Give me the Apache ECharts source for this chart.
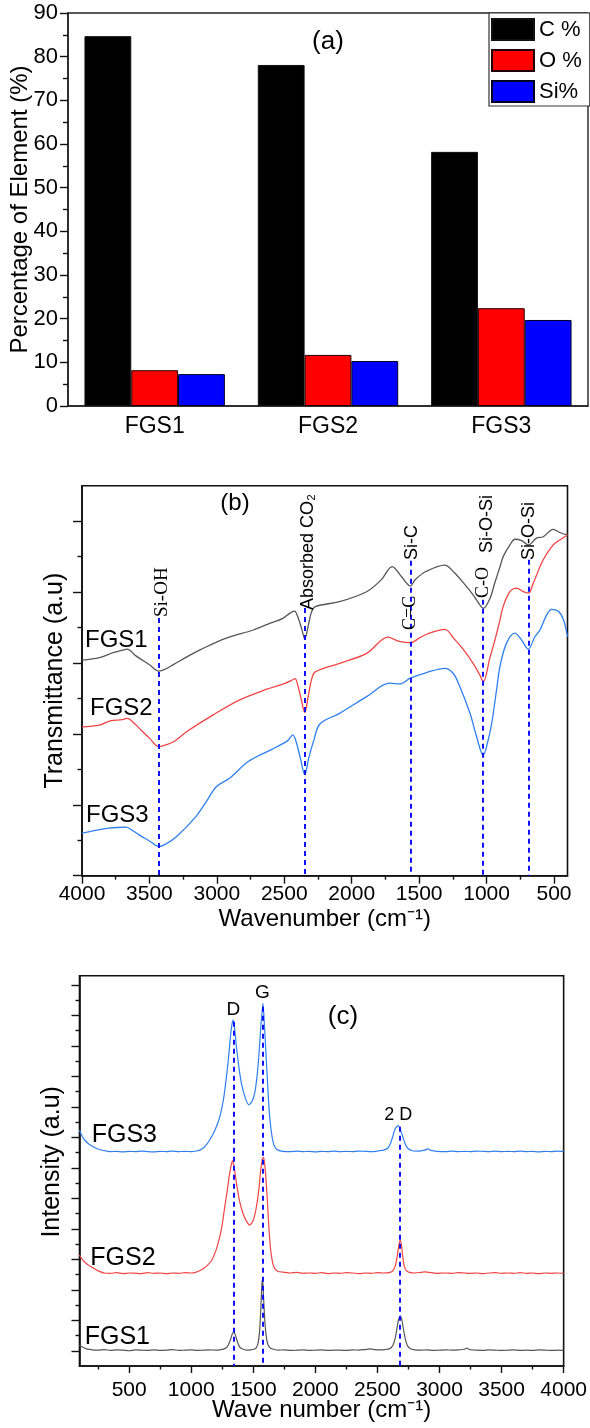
<!DOCTYPE html>
<html><head><meta charset="utf-8">
<script src="https://cdn.jsdelivr.net/npm/echarts@6/dist/echarts.min.js"></script>
<style>html,body{margin:0;padding:0;background:#fff}#c{width:590px;height:1428px}</style>
</head><body><div id="c"></div>
<script>
// ---------- Panel (a) ----------
const categories = ['FGS1', 'FGS2', 'FGS3'];
const carbonPct = [84.7, 78.1, 58.2];
const oxygenPct = [8.2, 11.7, 22.4];
const siliconPct = [7.3, 10.3, 19.7];

// ---------- Panel (b) FTIR: [wavenumber, transmittance a.u.] ----------
const ftirFGS1 = [[4000,60.8],[3870,61.5],[3770,62.9],[3700,63.6],[3665,63.9],[3600,62.0],[3500,59.5],[3430,57.7],[3380,58.3],[3320,59.6],[3200,62.2],[3125,63.7],[2930,67.0],[2730,69.3],[2600,71.3],[2510,72.6],[2460,74.0],[2425,74.6],[2395,72.5],[2370,69.5],[2348,66.8],[2325,70.0],[2300,74.2],[2270,75.9],[2090,77.3],[1890,80.1],[1780,83.5],[1700,87.2],[1630,84.3],[1565,81.7],[1530,83.5],[1450,85.8],[1310,87.6],[1240,85.5],[1170,82.5],[1100,79.2],[1050,76.4],[1025,75.4],[975,78.2],[940,82.5],[900,87.2],[877,90.0],[827,93.3],[790,94.9],[740,94.5],[690,93.3],[630,95.2],[580,95.6],[506,97.7],[457,96.8],[400,96.1]];
const ftirFGS2 = [[4000,42.0],[3870,42.5],[3790,43.7],[3700,44.0],[3665,44.4],[3600,42.5],[3560,41.0],[3500,38.8],[3430,36.4],[3380,36.9],[3320,37.8],[3225,40.6],[3030,45.3],[2830,49.6],[2630,52.6],[2500,54.2],[2440,55.2],[2420,55.6],[2395,53.0],[2370,49.0],[2348,46.0],[2325,50.0],[2300,55.0],[2270,57.5],[2090,59.9],[1890,62.7],[1730,67.3],[1690,66.7],[1640,66.0],[1565,65.7],[1500,67.0],[1445,68.1],[1310,69.5],[1240,66.8],[1170,63.7],[1100,59.9],[1050,56.6],[1025,54.7],[975,61.5],[938,66.5],[901,72.1],[877,75.9],[827,80.1],[777,81.1],[728,80.1],[690,79.7],[654,82.5],[580,89.1],[506,93.3],[457,94.7],[400,96.1]];
const ftirFGS3 = [[4000,12.0],[3900,12.8],[3800,13.4],[3740,13.6],[3675,13.7],[3620,12.6],[3577,11.5],[3500,9.8],[3428,8.2],[3380,8.9],[3300,11.0],[3157,16.6],[3080,20.8],[3004,25.1],[2906,27.5],[2767,32.2],[2600,35.5],[2475,38.1],[2437,39.7],[2410,37.5],[2380,33.0],[2348,28.5],[2320,33.0],[2280,38.3],[2236,42.8],[2090,45.8],[1890,50.5],[1717,54.3],[1643,54.1],[1566,55.7],[1445,57.3],[1309,58.5],[1248,57.1],[1198,53.3],[1123,45.8],[1074,39.2],[1025,34.0],[988,38.3],[962,43.0],[926,52.4],[901,59.0],[852,65.6],[790,68.4],[741,66.5],[691,63.9],[642,67.4],[604,69.3],[555,73.5],[517,75.1],[466,74.5],[429,72.1],[400,67.4]];
const ftirTickValues = [4000, 3500, 3000, 2500, 2000, 1500, 1000, 500];
const ftirMinorTicks = [3750, 3250, 2750, 2250, 1750, 1250, 750];
const ftirYMajor = [0, 20, 40, 60, 80, 100];
const ftirYMinor = [10, 30, 50, 70, 90];
const ftirPeakWn = [3430, 2350, 1565, 1025, 685];
const ftirPeakTop = [72.7, 75.5, 88.8, 77.8, 89.1];

// ---------- Panel (c) Raman: [wavenumber, intensity a.u.] ----------
const ramanFGS1 = [[100,0.68],[125,0.62],[150,0.57],[175,0.55],[200,0.53],[250,0.52],[300,0.54],[350,0.51],[400,0.53],[450,0.52],[500,0.5],[550,0.53],[600,0.52],[650,0.51],[700,0.53],[750,0.51],[800,0.52],[850,0.54],[900,0.51],[950,0.52],[1000,0.53],[1050,0.51],[1100,0.52],[1150,0.53],[1200,0.52],[1240,0.54],[1270,0.57],[1295,0.66],[1315,0.85],[1330,1.04],[1342,1.12],[1355,1.02],[1370,0.82],[1385,0.66],[1400,0.58],[1425,0.54],[1450,0.52],[1480,0.53],[1505,0.55],[1525,0.6],[1540,0.78],[1552,1.2],[1562,2.0],[1568,2.6],[1573,2.84],[1578,2.65],[1585,2.05],[1595,1.35],[1607,0.9],[1620,0.68],[1640,0.58],[1670,0.54],[1700,0.52],[1750,0.53],[1800,0.51],[1850,0.52],[1900,0.53],[1950,0.51],[2000,0.52],[2050,0.53],[2100,0.51],[2150,0.52],[2200,0.52],[2250,0.51],[2300,0.53],[2350,0.52],[2400,0.54],[2440,0.56],[2480,0.54],[2520,0.53],[2560,0.54],[2600,0.57],[2625,0.68],[2645,0.95],[2660,1.3],[2672,1.55],[2684,1.64],[2696,1.52],[2710,1.2],[2725,0.88],[2740,0.68],[2760,0.58],[2790,0.54],[2850,0.52],[2900,0.53],[2950,0.51],[3000,0.52],[3050,0.53],[3100,0.52],[3150,0.53],[3200,0.55],[3220,0.59],[3240,0.54],[3300,0.52],[3350,0.51],[3400,0.53],[3450,0.52],[3500,0.51],[3550,0.52],[3600,0.53],[3650,0.51],[3700,0.52],[3750,0.51],[3800,0.53],[3850,0.52],[3900,0.51],[3950,0.52],[4000,0.51]];
const ramanFGS2 = [[100,3.64],[125,3.48],[150,3.38],[175,3.3],[200,3.24],[225,3.18],[250,3.12],[275,3.08],[300,3.05],[350,3.04],[400,3.06],[450,3.03],[500,3.05],[550,3.04],[600,3.03],[650,3.06],[700,3.04],[750,3.05],[800,3.03],[850,3.05],[900,3.04],[950,3.06],[1000,3.05],[1040,3.08],[1070,3.13],[1100,3.2],[1130,3.3],[1163,3.45],[1200,3.8],[1230,4.24],[1250,4.65],[1270,5.22],[1290,5.75],[1305,6.2],[1320,6.55],[1332,6.73],[1345,6.55],[1357,6.2],[1369,5.88],[1390,5.4],[1417,5.0],[1445,4.75],[1471,4.62],[1500,4.78],[1525,5.22],[1545,5.8],[1560,6.43],[1574,6.8],[1584,6.84],[1597,6.4],[1610,5.66],[1625,4.6],[1637,3.91],[1655,3.4],[1672,3.2],[1700,3.1],[1739,3.08],[1800,3.05],[1850,3.07],[1900,3.04],[1950,3.05],[2000,3.04],[2050,3.06],[2100,3.03],[2150,3.05],[2200,3.04],[2250,3.06],[2300,3.05],[2350,3.03],[2400,3.05],[2450,3.04],[2500,3.06],[2550,3.05],[2600,3.07],[2625,3.13],[2645,3.3],[2660,3.62],[2672,3.95],[2683,4.13],[2694,3.95],[2705,3.55],[2718,3.25],[2735,3.12],[2760,3.07],[2800,3.05],[2850,3.07],[2890,3.09],[2930,3.06],[2980,3.04],[3050,3.05],[3100,3.04],[3150,3.06],[3200,3.05],[3250,3.04],[3300,3.05],[3350,3.03],[3400,3.05],[3450,3.06],[3500,3.04],[3550,3.05],[3600,3.04],[3650,3.06],[3700,3.04],[3750,3.05],[3800,3.03],[3850,3.05],[3900,3.04],[3950,3.05],[4000,3.04]];
const ramanFGS3 = [[100,7.74],[120,7.55],[140,7.42],[170,7.3],[211,7.19],[260,7.1],[319,7.05],[350,7.03],[400,7.04],[450,7.02],[500,7.04],[550,7.03],[600,7.05],[650,7.03],[700,7.02],[750,7.04],[800,7.03],[850,7.05],[900,7.03],[950,7.04],[1000,7.03],[1040,7.05],[1069,7.08],[1110,7.2],[1149,7.41],[1190,7.72],[1230,8.17],[1260,8.75],[1284,9.49],[1300,10.1],[1316,10.8],[1328,11.2],[1337,11.34],[1350,11.05],[1364,10.47],[1384,9.8],[1404,9.27],[1435,8.8],[1465,8.56],[1490,8.68],[1511,8.94],[1530,9.5],[1546,10.25],[1562,11.2],[1578,11.89],[1592,11.0],[1605,10.03],[1620,8.9],[1632,8.17],[1652,7.5],[1672,7.19],[1700,7.08],[1739,7.04],[1800,7.03],[1850,7.05],[1900,7.03],[1950,7.04],[2000,7.02],[2050,7.04],[2100,7.03],[2150,7.05],[2200,7.03],[2250,7.04],[2300,7.03],[2350,7.05],[2400,7.04],[2450,7.03],[2500,7.05],[2550,7.08],[2583,7.14],[2605,7.3],[2623,7.52],[2645,7.8],[2667,7.88],[2685,7.75],[2704,7.52],[2722,7.3],[2744,7.14],[2780,7.06],[2830,7.05],[2880,7.08],[2905,7.12],[2930,7.07],[2980,7.04],[3050,7.03],[3100,7.05],[3150,7.03],[3200,7.04],[3250,7.03],[3300,7.05],[3350,7.04],[3400,7.03],[3450,7.05],[3500,7.03],[3550,7.04],[3600,7.03],[3650,7.05],[3700,7.03],[3750,7.04],[3800,7.02],[3850,7.04],[3900,7.03],[3950,7.05],[4000,7.04]];
const ramanTickValues = [500, 1000, 1500, 2000, 2500, 3000, 3500, 4000];
const ramanMinorTicks = [250, 750, 1250, 1750, 2250, 2750, 3250, 3750];
const ramanYMajor = [0.5, 1.5, 2.5, 3.5, 4.5, 5.5, 6.5, 7.5, 8.5, 9.5, 10.5, 11.5, 12.5];
const ramanYMinor = [1, 2, 3, 4, 5, 6, 7, 8, 9, 10, 11, 12];
const ramanPeakWn = [1340, 1578, 2677];
const ramanPeakTop = [11.29, 11.78, 7.85];

const SANS = 'Liberation Sans, Arial, sans-serif';
const SERIF = 'Liberation Serif, Times New Roman, serif';
const C_GRAY = '#565656', C_RED = '#f04444', C_BLUE = '#2f80ed', C_DASH = '#1010ff';

const axisLine = { show: true, onZero: false, lineStyle: { color: '#111', width: 1.6 } };
const tickStyle = { color: '#111', width: 1.4 };
const plainNum = v => String(v);

function valueX(grid, min, max, inverse, ticks, len, labels, margin, name) {
  return {
    gridIndex: grid, type: 'value', min: min, max: max, inverse: inverse, position: 'bottom',
    axisLine: labels ? axisLine : { show: false },
    splitLine: { show: false },
    axisTick: { show: true, customValues: ticks, length: len, lineStyle: tickStyle },
    axisLabel: labels ? { show: true, customValues: ticks, formatter: plainNum, fontSize: 21, color: '#000', fontFamily: SANS, margin: margin } : { show: false },
    name: name || '', nameLocation: 'middle', nameGap: 32, nameMoveOverlap: false,
    nameTextStyle: { fontSize: 24, color: '#000', fontFamily: SANS }
  };
}
function valueY(grid, min, max, ticks, len, main, name, gap, pad) {
  return {
    gridIndex: grid, type: 'value', min: min, max: max, position: 'left',
    axisLine: main ? axisLine : { show: false },
    splitLine: { show: false },
    axisTick: { show: true, customValues: ticks, length: len, lineStyle: tickStyle },
    axisLabel: { show: false },
    name: name || '', nameLocation: 'middle', nameGap: gap || 0, nameMoveOverlap: false,
    nameTextStyle: { fontSize: 25, color: '#000', fontFamily: SANS, padding: pad || 0 }
  };
}
function dashLines(wns, tops) {
  return {
    silent: true, symbol: ['none', 'none'], animation: false,
    label: { show: false },
    lineStyle: { type: [5, 4], color: C_DASH, width: 2 },
    data: wns.map((w, i) => [{ coord: [w, tops[i]] }, { coord: [w, 0] }])
  };
}
function txt(x, y, text, size, opts) {
  opts = opts || {};
  return {
    type: 'text', x: x, y: y, z: 100, rotation: opts.rot || 0,
    style: { text: text, fontSize: size, fontFamily: opts.font || SANS, fill: '#000',
      align: opts.align || 'left', verticalAlign: 'middle' }
  };
}
const ROT = Math.PI / 2;

const chart = echarts.init(document.getElementById('c'), null, { renderer: 'canvas' });
chart.setOption({
  animation: false,
  backgroundColor: '#fff',
  grid: [
    { left: 62, top: 13, width: 526, height: 393, show: true, borderColor: '#222', borderWidth: 1.4 },
    { left: 82, top: 485.7, width: 485.5, height: 390, show: true, borderColor: '#111', borderWidth: 1.6 },
    { left: 79.5, top: 975.7, width: 485, height: 390.3, show: true, borderColor: '#111', borderWidth: 1.6 }
  ],
  legend: {
    data: ['C %', 'O %', 'Si%'], orient: 'vertical', left: 489, top: 13,
    itemWidth: 42, itemHeight: 21, itemGap: 8, icon: 'rect',
    padding: [5, 8, 3, 2], backgroundColor: '#fff', borderColor: '#333', borderWidth: 1.2, borderRadius: 0,
    textStyle: { fontSize: 22, color: '#000', fontFamily: SANS }
  },
  xAxis: [
    {
      gridIndex: 0, type: 'category', data: categories,
      axisLine: { lineStyle: { color: '#222', width: 1.6 } },
      axisTick: { length: 6, lineStyle: tickStyle },
      axisLabel: { fontSize: 23, color: '#000', fontFamily: SANS, margin: 9 }
    },
    valueX(1, 400, 4000, true, ftirTickValues, 8, true, 8, 'Wavenumber (cm⁻¹)'),
    valueX(1, 400, 4000, true, ftirMinorTicks, 4, false),
    valueX(2, 100, 4000, false, ramanTickValues, 7, true, 14, 'Wave number (cm⁻¹)'),
    valueX(2, 100, 4000, false, ramanMinorTicks, 3.5, false)
  ],
  yAxis: [
    {
      gridIndex: 0, type: 'value', min: 0, max: 90, interval: 10,
      axisLine: { show: true, lineStyle: { color: '#222', width: 1.6 } },
      axisTick: { show: true, length: 8, lineStyle: tickStyle },
      minorTick: { show: true, splitNumber: 2, length: 5, lineStyle: tickStyle },
      splitLine: { show: false },
      axisLabel: { fontSize: 22, color: '#000', fontFamily: SANS, margin: 10 },
      name: 'Percentage of Element (%)', nameLocation: 'middle', nameGap: 36, nameMoveOverlap: false,
      nameTextStyle: { fontSize: 24, color: '#000', fontFamily: SANS }
    },
    valueY(1, 0, 110, ftirYMajor, 9, true, 'Transmittance (a.u)', 14.5),
    valueY(1, 0, 110, ftirYMinor, 4.5, false),
    valueY(2, 0, 12.8, ramanYMajor, 8, true, 'Intensity (a.u)', 15, [0, 0, 0, 18]),
    valueY(2, 0, 12.8, ramanYMinor, 4, false)
  ],
  series: [
    { name: 'C %', type: 'bar', xAxisIndex: 0, yAxisIndex: 0, data: carbonPct, barGap: '0%', barCategoryGap: '19%',
      itemStyle: { color: '#000', borderColor: '#111', borderWidth: 1 } },
    { name: 'O %', type: 'bar', xAxisIndex: 0, yAxisIndex: 0, data: oxygenPct, barGap: '0%', barCategoryGap: '19%',
      itemStyle: { color: '#ff0000', borderColor: '#220000', borderWidth: 1 } },
    { name: 'Si%', type: 'bar', xAxisIndex: 0, yAxisIndex: 0, data: siliconPct, barGap: '0%', barCategoryGap: '19%',
      itemStyle: { color: '#0000ff', borderColor: '#000022', borderWidth: 1 } },

    { type: 'line', xAxisIndex: 1, yAxisIndex: 1, data: ftirFGS1, smooth: 0.35, symbol: 'none',
      lineStyle: { color: C_GRAY, width: 1.3 }, markLine: dashLines(ftirPeakWn, ftirPeakTop) },
    { type: 'line', xAxisIndex: 1, yAxisIndex: 1, data: ftirFGS2, smooth: 0.35, symbol: 'none',
      lineStyle: { color: C_RED, width: 1.3 } },
    { type: 'line', xAxisIndex: 1, yAxisIndex: 1, data: ftirFGS3, smooth: 0.35, symbol: 'none',
      lineStyle: { color: C_BLUE, width: 1.3 } },

    { type: 'line', xAxisIndex: 3, yAxisIndex: 3, data: ramanFGS1, smooth: 0.2, symbol: 'none',
      lineStyle: { color: C_GRAY, width: 1.2 }, markLine: dashLines(ramanPeakWn, ramanPeakTop) },
    { type: 'line', xAxisIndex: 3, yAxisIndex: 3, data: ramanFGS2, smooth: 0.2, symbol: 'none',
      lineStyle: { color: C_RED, width: 1.2 } },
    { type: 'line', xAxisIndex: 3, yAxisIndex: 3, data: ramanFGS3, smooth: 0.2, symbol: 'none',
      lineStyle: { color: C_BLUE, width: 1.2 } }
  ],
  graphic: [
    txt(328, 42, '(a)', 26, { align: 'center' }),
    txt(235, 503, '(b)', 24, { align: 'center' }),
    txt(85, 640, 'FGS1', 24),
    txt(90, 708, 'FGS2', 24),
    txt(86, 815, 'FGS3', 24),
    txt(161.7, 617, 'Si-OH', 19, { rot: ROT, font: SERIF }),
    txt(308, 610, 'Absorbed CO₂', 18, { rot: ROT }),
    txt(411.7, 560, 'Si-C', 18, { rot: ROT }),
    txt(410.7, 630, 'C=C', 18, { rot: ROT, font: SERIF }),
    txt(483.3, 598, 'C-O', 18, { rot: ROT, font: SERIF }),
    txt(486.7, 553, 'Si-O-Si', 18, { rot: ROT }),
    txt(529.3, 560, 'Si-O-Si', 18, { rot: ROT }),
    txt(343, 1017, '(c)', 26, { align: 'center' }),
    txt(233.3, 1010, 'D', 19, { align: 'center' }),
    txt(262.3, 993, 'G', 19, { align: 'center' }),
    txt(398.3, 1115, '2 D', 18, { align: 'center' }),
    txt(91.7, 1135, 'FGS3', 25),
    txt(90.3, 1258, 'FGS2', 25),
    txt(84.7, 1337, 'FGS1', 25)
  ]
});
</script></body></html>
